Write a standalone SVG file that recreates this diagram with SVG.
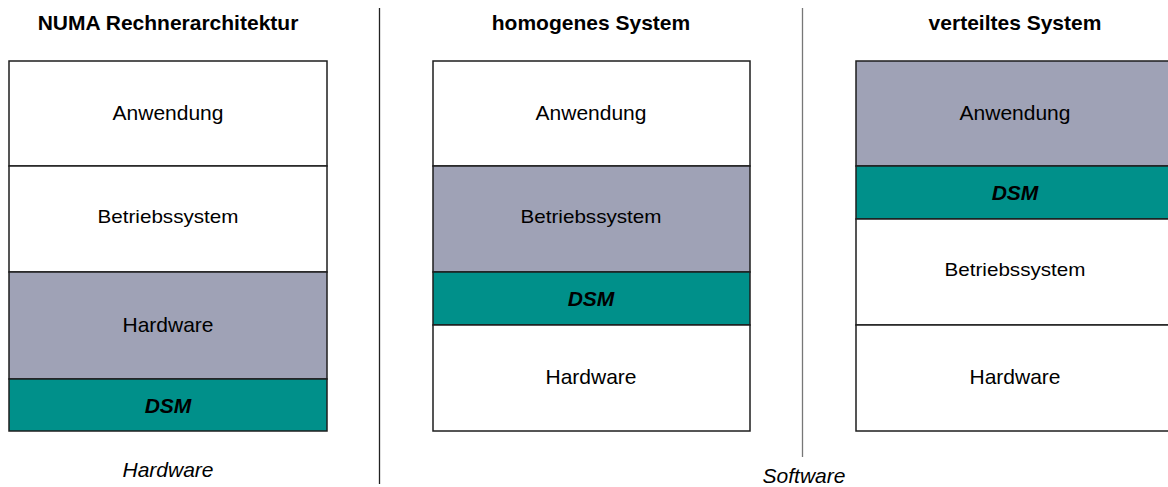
<svg xmlns="http://www.w3.org/2000/svg" width="1168" height="487" viewBox="0 0 1168 487">
<style>
.bg{fill:#ffffff}
.w{fill:#ffffff;stroke:#1e1e1e;stroke-width:1.5}
.g{fill:#9fa2b6;stroke:#1e1e1e;stroke-width:1.5}
.t{fill:#00908a;stroke:#1e1e1e;stroke-width:1.5}
text{font-family:"Liberation Sans",Arial,sans-serif;font-size:21px;fill:#000;text-anchor:middle}
.h{font-weight:bold}
.d{font-weight:bold;font-style:italic}
.i{font-style:italic}
.bs{font-size:19px}
.div{stroke:#222;stroke-width:1.3;fill:none}
</style>
<rect class="bg" x="0" y="0" width="1168" height="487"/>
<g id="connectors">
<line class="div" x1="379.5" y1="8" x2="379.5" y2="484"/>
<line class="div" x1="802.5" y1="8" x2="802.5" y2="457" style="stroke:#777"/>
</g>
<g id="col-numa">
<text class="h" x="168" y="30">NUMA Rechnerarchitektur</text>
<g id="numa-anwendung"><rect class="w" x="9" y="61" width="318" height="105"/><text x="168" y="119.5">Anwendung</text></g>
<g id="numa-bs"><rect class="w" x="9" y="166" width="318" height="106"/><text class="bs" x="168" y="223" textLength="141" lengthAdjust="spacingAndGlyphs">Betriebssystem</text></g>
<g id="numa-hw"><rect class="g" x="9" y="272" width="318" height="107"/><text x="168" y="331.5">Hardware</text></g>
<g id="numa-dsm"><rect class="t" x="9" y="379" width="318" height="52"/><text class="d" x="168" y="412.5">DSM</text></g>
<text class="i" x="168" y="477">Hardware</text>
</g>
<g id="col-homogen">
<text class="h" x="591" y="30">homogenes System</text>
<g id="hom-anwendung"><rect class="w" x="433" y="61" width="317" height="105"/><text x="591" y="119.5">Anwendung</text></g>
<g id="hom-bs"><rect class="g" x="433" y="166" width="317" height="106"/><text class="bs" x="591" y="223" textLength="141" lengthAdjust="spacingAndGlyphs">Betriebssystem</text></g>
<g id="hom-dsm"><rect class="t" x="433" y="272" width="317" height="53"/><text class="d" x="591" y="306">DSM</text></g>
<g id="hom-hw"><rect class="w" x="433" y="325" width="317" height="106"/><text x="591" y="384">Hardware</text></g>
</g>
<g id="col-verteilt">
<text class="h" x="1015" y="30">verteiltes System</text>
<g id="ver-anwendung"><rect class="g" x="856" y="61" width="318" height="105"/><text x="1015" y="119.5">Anwendung</text></g>
<g id="ver-dsm"><rect class="t" x="856" y="166" width="318" height="53"/><text class="d" x="1015" y="200">DSM</text></g>
<g id="ver-bs"><rect class="w" x="856" y="219" width="318" height="106"/><text class="bs" x="1015" y="276" textLength="141" lengthAdjust="spacingAndGlyphs">Betriebssystem</text></g>
<g id="ver-hw"><rect class="w" x="856" y="325" width="318" height="106"/><text x="1015" y="384">Hardware</text></g>
</g>
<text class="i" x="804" y="483">Software</text>
</svg>
